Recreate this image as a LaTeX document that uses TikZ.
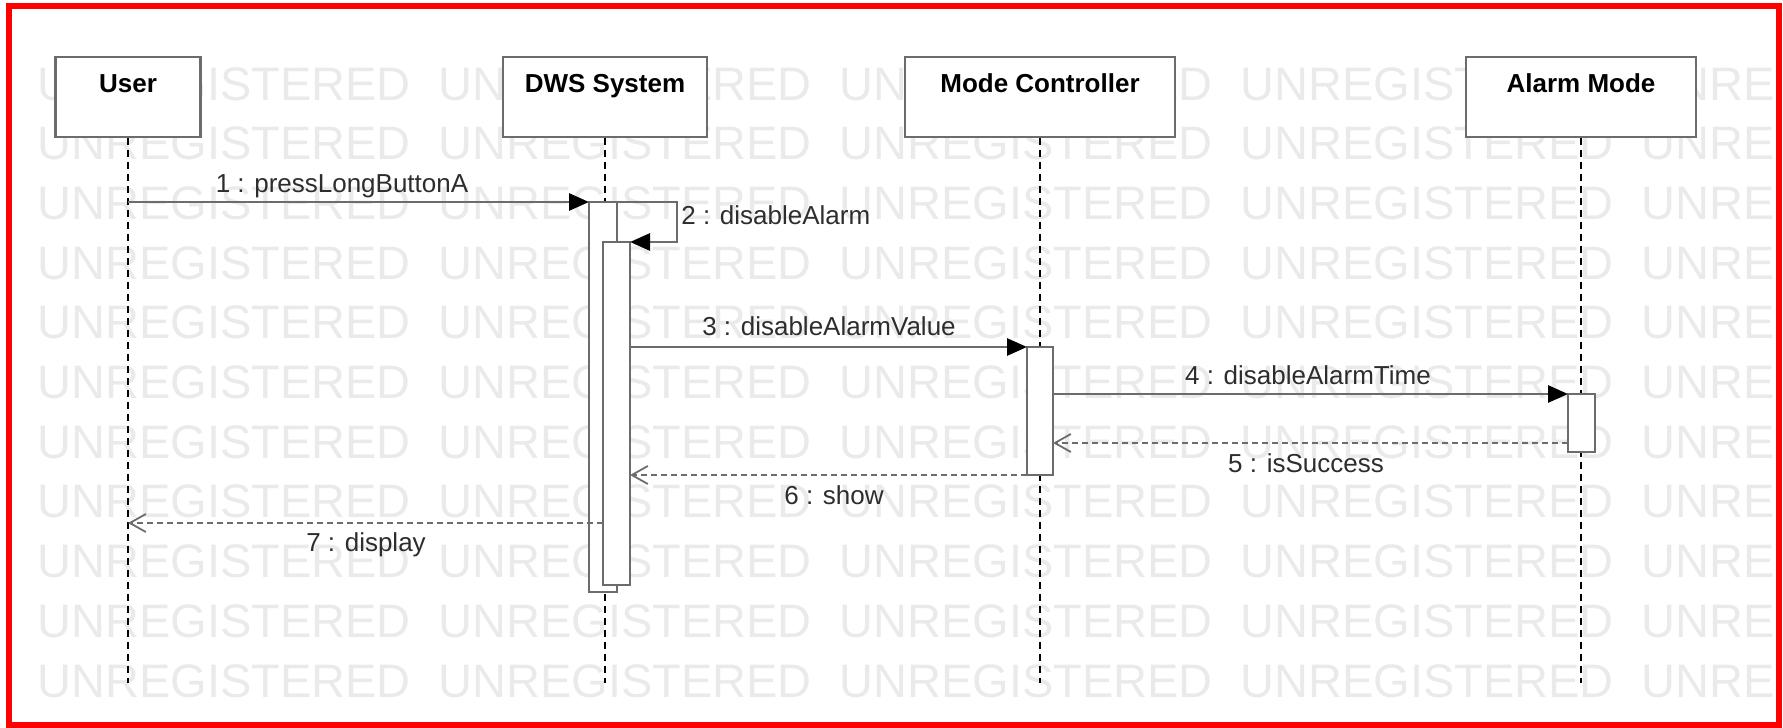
\documentclass[tikz,border=0pt]{standalone}
\usepackage{fontspec}
\setmainfont{Liberation Sans}
\usetikzlibrary{arrows.meta,positioning}
\definecolor{FrameRed}{RGB}{255,0,0}
\definecolor{LineGray}{RGB}{108,108,108}
\definecolor{MarkGray}{RGB}{234,234,234}
\definecolor{LabelGray}{RGB}{45,45,45}

\begin{document}
\begin{tikzpicture}[x=0.5pt,y=-0.5pt,
    head/.style={draw=LineGray,line width=1.4pt,fill=white,inner sep=0pt,
      minimum height=40pt,text height=17.5pt,text depth=22.5pt,
      font=\fontsize{13}{15}\selectfont\bfseries},
    life/.style={line width=0.9pt,dash pattern=on 3.5pt off 2.5pt},
    bar/.style={draw=LineGray,line width=1.3pt,fill=white,inner sep=0pt,outer sep=0pt},
    call/.style={draw=LineGray,line width=1.4pt,
      -{Triangle[length=10pt,width=8.5pt,color=black]}},
    reply/.style={draw=LineGray,line width=1.3pt,dash pattern=on 3pt off 2pt,
      -{Straight Barb[length=8pt,width=9pt,line width=0.9pt]}},
    msg/.style={text=LabelGray,font=\fontsize{13}{15}\selectfont,inner sep=0pt,
      text height=9.3pt,text depth=0pt},
    wmark/.style={anchor=base west,text=MarkGray,inner sep=0pt,
      font=\fontsize{23.5}{25}\selectfont}]
  \useasboundingbox (0,0) rectangle (1783,728);

  % watermark
  \begin{scope}
    \clip (30,57) rectangle (1773,700);
    \foreach \r in {0,...,10}
      \foreach \c in {0,...,4}
        \node[wmark] (wm-\r-\c) at (37+401*\c,100+59.7*\r) {UNREGISTERED};
  \end{scope}

  % lifeline heads
  \node[head,minimum width=72.5pt] (user) at (128,97) {User};
  \node[head,minimum width=102pt] (dws) at (605,97) {DWS System};
  \node[head,minimum width=135pt] (mc) at (1040,97) {Mode Controller};
  \node[head,minimum width=115pt] (am) at (1581,97) {Alarm Mode};

  \coordinate (bottom) at (0,683);
  \coordinate (r5) at (0,443);
  \coordinate (r7) at (0,523);

  \foreach \o in {user,dws,mc,am}
    \draw[life] (\o.south) -- (\o.south |- bottom);

  % activations
  \node[bar,minimum width=14pt,minimum height=195pt] (dwsA) at (603,397) {};
  \node[bar,minimum width=13.5pt,minimum height=171.5pt] (dwsB) at (616.5,413.5) {};
  \node[bar,minimum width=13pt,minimum height=64pt] (mcA) at (1040,411) {};
  \node[bar,minimum width=13.5pt,minimum height=29pt] (amA) at (1581.5,423) {};

  % messages
  \draw[call] (user.south |- dwsA.north) -- (dwsA.north west);
  \node[msg] (m1) at (342,183) {1 : pressLongButtonA};

  \draw[call] (dwsA.north east) -- ++(60,0) |- (dwsB.north east);
  \node[msg,anchor=west] (m2) at (681,215) {2 : disableAlarm};

  \draw[call] (dwsB.east |- mcA.north) -- (mcA.north west);
  \node[msg] (m3) at (829,326) {3 : disableAlarmValue};

  \draw[call] (mcA.east |- amA.north) -- (amA.north west);
  \node[msg] (m4) at (1308,375) {4 : disableAlarmTime};

  \draw[reply] (amA.west |- r5) -- (mcA.east |- r5);
  \node[msg] (m5) at (1306,463) {5 : isSuccess};

  \draw[reply] (mcA.south west) -- (dwsB.east |- mcA.south);
  \node[msg] (m6) at (834,495) {6 : show};

  \draw[reply] (dwsB.west |- r7) -- (user.south |- r7);
  \node[msg] (m7) at (366,542) {7 : display};

  % frame
  \draw[FrameRed,line width=3pt] (9,6) rectangle (1779,725);
\end{tikzpicture}
\end{document}
